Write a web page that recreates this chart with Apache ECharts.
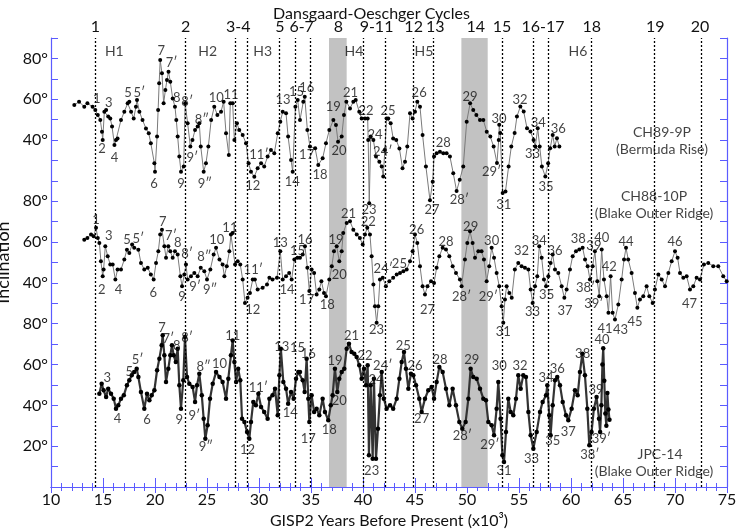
<!DOCTYPE html>
<html><head><meta charset="utf-8">
<script src="https://cdn.jsdelivr.net/npm/echarts@6/dist/echarts.min.js"></script>
<style>html,body{margin:0;padding:0;background:#fff}#c{width:743px;height:532px}</style>
</head><body><div id="c"></div>
<script>
// ---- data (x = GISP2 kyr BP, v = inclination in degrees) ----
const ch89_9p = [[12.24,57.2],[12.7,58.8],[13.2,56.3],[13.5,58],[14.0,56.3],[14.26,54.7],[14.5,52.3],[14.74,49.8],[14.9,44.1],[14.97,40],[15.13,53.9],[15.3,54.7],[15.5,51.5],[15.7,50.6],[15.87,46.6],[16.1,37.6],[16.25,40],[16.4,40.8],[16.73,49.8],[17.05,53.9],[17.37,58],[17.53,58.8],[17.7,53.9],[17.95,50.6],[18.17,56.3],[18.27,59.6],[18.5,53.9],[18.8,49.8],[19.13,45.7],[19.4,43.3],[19.6,38.4],[19.94,28.6],[20.0,24.5],[20.2,41.7],[20.3,54.7],[20.4,67.8],[20.5,79.2],[20.67,72.7],[20.83,58],[21.0,64.5],[21.15,69.4],[21.3,73.5],[21.47,68.6],[21.7,60.4],[21.92,56.3],[22.05,49.8],[22.18,41.7],[22.34,31.9],[22.5,24.5],[22.76,27],[22.9,58],[23.14,48.2],[23.4,36.8],[23.6,40],[23.85,44.9],[24.1,46.6],[24.26,48.2],[24.4,36.8],[24.68,24.5],[24.9,28.6],[25.13,36.8],[25.4,49.8],[25.7,56.3],[26.0,52.3],[26.35,53.9],[26.6,58.8],[26.83,43.3],[27.1,32.7],[27.24,58],[27.47,58],[27.63,40],[27.88,48.2],[28.1,44.9],[28.43,42.5],[28.75,38.4],[29.0,28.6],[29.23,24.5],[29.55,22],[29.87,26.2],[30.2,28.6],[30.5,27],[30.83,31.9],[31.15,35.1],[31.47,33.5],[31.8,43.3],[32.05,49],[32.28,53.9],[32.6,53.1],[32.8,41.7],[33.08,30.2],[33.24,24.5],[33.5,56.3],[33.72,59.6],[33.94,49.8],[34.26,58.8],[34.4,61.2],[34.65,44.9],[34.9,36.8],[35.4,36],[35.7,27.8],[36.12,31.1],[36.44,38.4],[36.76,44.9],[37.15,49.8],[37.4,47.4],[37.6,39.2],[37.95,41.7],[38.17,52.3],[38.4,58.8],[38.75,55.5],[39.07,58.8],[39.3,59.6],[39.64,53.9],[39.87,50.6],[40.19,50.6],[40.45,50.6],[40.5,40],[40.6,9],[40.74,41.7],[41.0,40],[41.25,31.9],[41.57,29.4],[41.8,27],[41.95,22.1],[42.1,35.1],[42.27,50.6],[42.43,50.6],[42.66,48.2],[42.9,40.8],[43.2,40],[43.5,35.9],[43.8,26.2],[44.04,29.4],[44.26,36.8],[44.52,53.1],[44.77,50.6],[45.0,53.9],[45.22,58.8],[45.48,56.3],[45.73,42.5],[46.05,27],[46.44,10.5],[46.7,19.6],[46.83,31.9],[47.08,33.5],[47.4,34.3],[47.72,33.5],[48.04,33.5],[48.36,31.9],[48.68,23.7],[49.0,15],[49.3,20.5],[49.64,27],[49.97,49],[50.3,58],[50.6,54.7],[50.9,52.3],[51.25,49.8],[51.57,49.8],[51.9,44.1],[52.24,41.7],[52.56,36.8],[52.88,28.8],[53.05,40],[53.1,47.5],[53.2,43.4],[53.43,14],[53.7,14.8],[54.0,27],[54.26,36.8],[54.58,43.4],[54.8,51.5],[55.13,56.4],[55.45,54],[55.77,45.8],[56.1,44.2],[56.4,40],[56.57,36.8],[56.8,45.8],[56.99,36.8],[57.2,27],[57.53,22.1],[57.8,28.6],[58.0,36],[58.24,42.5],[58.43,36.8],[58.65,40.9],[58.88,36.8]];

const ch88_10p = [[13.2,61.2],[13.5,62],[13.85,63.7],[14.1,62.9],[14.33,67],[14.5,62],[14.65,59.6],[14.8,50.6],[14.97,43.3],[15.06,46.6],[15.22,58],[15.45,53.1],[15.7,49],[15.93,49],[16.19,41.7],[16.4,46.6],[16.73,46.6],[17.05,51.5],[17.3,56.3],[17.53,54.7],[17.8,58.8],[18.0,57.2],[18.4,56.3],[18.65,49.8],[18.97,46.6],[19.3,47.4],[19.6,44.1],[19.87,41.7],[20.1,49.8],[20.32,55.5],[20.5,63.7],[20.67,66.1],[20.9,58],[21.06,52.3],[21.28,58],[21.47,55.5],[21.7,52.3],[21.92,55.5],[22.18,53.9],[22.44,43.3],[22.6,38.4],[22.82,44.1],[22.98,49],[23.14,41.7],[23.46,43.3],[23.78,44.9],[24.1,43.3],[24.4,47.4],[24.74,45.7],[25.0,41.7],[25.32,46.6],[25.64,53.9],[25.87,57.2],[26.2,51.5],[26.5,49],[26.67,43.3],[26.9,48.2],[27.15,55.5],[27.3,63.7],[27.47,64.5],[27.7,49],[27.95,50.6],[28.2,49],[28.43,41.7],[28.65,30.2],[28.9,32.7],[29.13,35.1],[29.4,41.7],[29.6,41.7],[29.87,36.8],[30.35,37.6],[30.77,39.2],[31.0,42.5],[31.3,41.7],[31.73,42.5],[32.05,55.5],[32.28,41.7],[32.6,43.3],[32.9,44.9],[33.14,41.7],[33.4,51.5],[33.7,52.3],[33.94,52.3],[34.2,53.9],[34.42,58],[34.65,47.4],[34.84,36],[35.06,46.6],[35.3,44.9],[35.54,34.3],[35.8,36.8],[36.0,40.8],[36.25,35.1],[36.44,33.5],[36.76,41.7],[37.0,48.2],[37.21,55.5],[37.47,58],[37.72,50.6],[37.95,55.5],[38.1,64.5],[38.43,69.4],[38.75,70.2],[39.07,66.1],[39.4,63.7],[39.7,62],[39.97,58.8],[40.19,63.7],[40.41,67],[40.67,63.7],[40.83,53.1],[41.0,39.2],[41.15,28.6],[41.31,20.5],[41.47,28.6],[41.63,41.7],[41.9,42.5],[42.2,38.4],[42.53,40.8],[42.9,42.5],[43.24,44.1],[43.56,44.9],[43.88,45.7],[44.2,46.6],[44.52,50.6],[44.77,55.5],[45.0,63.7],[45.22,59.6],[45.48,48.2],[45.73,38.4],[45.96,34.3],[46.2,38.4],[46.54,40.8],[46.83,40],[47.08,47.4],[47.34,53.1],[47.66,57.2],[47.98,56.4],[48.3,53.1],[48.62,48.2],[48.94,44.9],[49.32,41.7],[49.48,38.4],[49.8,51.5],[50.03,59.6],[50.29,65.3],[50.54,59.6],[50.77,52.3],[51.09,55.5],[51.4,55.5],[51.63,51.5],[51.89,40.8],[52.14,48.2],[52.37,57.2],[52.6,52.3],[52.85,44.9],[53.1,38.4],[53.33,28.6],[53.49,20.5],[53.65,31.9],[53.81,38.4],[54.07,35.1],[54.3,32.7],[54.6,46.6],[54.93,49.8],[55.25,48.2],[55.57,47.4],[55.9,46.6],[56.12,36.8],[56.31,30.2],[56.54,38.4],[56.76,43.3],[56.95,58],[57.18,52.3],[57.4,41.7],[57.6,38.4],[57.82,43.3],[58.04,49.8],[58.24,53.9],[58.46,46.6],[58.78,44.9],[59.1,38.4],[59.36,32.7],[59.58,36.8],[59.9,46.6],[60.16,53.1],[60.48,55.5],[60.8,56.4],[61.12,57.2],[61.35,51.5],[61.6,48.2],[61.82,41.7],[62.08,48.2],[62.3,55.5],[62.53,40.8],[62.72,33.5],[62.95,56.4],[63.17,41.7],[63.43,33.5],[63.6,25.4],[63.81,43.3],[64.0,25.4],[64.23,22.1],[64.55,29.4],[64.87,41.7],[65.1,51.5],[65.29,57.2],[65.5,51.5],[65.83,44.9],[66.15,35.1],[66.38,27.8],[66.63,31.9],[66.95,33.5],[67.27,38.4],[67.53,33.5],[67.85,30.2],[68.07,36.8],[68.4,44.1],[68.72,41.7],[69.04,38.4],[69.36,44.9],[69.68,50.6],[70.0,55.5],[70.25,52.3],[70.48,44.9],[70.8,42.5],[71.12,43.3],[71.44,36.8],[71.76,38.4],[72.08,42.5],[72.4,41.7],[72.78,49],[73.2,49.8],[73.68,48.2],[74.16,48.2],[74.64,43.3],[74.97,40.8]];

const jpc_14 = [[14.65,45.7],[14.87,50.6],[15.06,47.4],[15.3,44.1],[15.5,48.2],[15.77,45.7],[16.03,43.3],[16.25,38.4],[16.47,40],[16.73,43.3],[17.0,44.9],[17.3,49.8],[17.53,52.3],[17.76,54.7],[18.0,56.3],[18.24,58],[18.4,53.9],[18.65,46.6],[18.97,38.4],[19.23,45.7],[19.46,42.5],[19.68,44.9],[19.94,47.4],[20.2,57.2],[20.42,62.9],[20.64,69.4],[20.74,74.3],[20.9,64.5],[21.06,51.5],[21.28,58],[21.47,64.5],[21.63,69.4],[21.8,64.5],[22.0,61.2],[22.18,67.8],[22.34,49.8],[22.5,38.4],[22.72,52.3],[22.88,73.5],[23.08,53.9],[23.3,50.6],[23.62,49],[23.85,41.7],[24.04,49.8],[24.26,55.5],[24.5,44.9],[24.68,33.5],[24.84,23.7],[25.06,30.2],[25.29,43.3],[25.55,50.6],[25.87,56.3],[26.2,53.9],[26.5,51.5],[26.83,43.3],[27.05,53.1],[27.3,64.5],[27.47,71.8],[27.63,61.2],[27.8,51.5],[28.0,58],[28.2,52.3],[28.37,33.5],[28.6,31.9],[28.85,27],[29.07,23.7],[29.23,31.9],[29.45,41.7],[29.7,40],[29.94,45.7],[30.2,39.2],[30.5,36.8],[30.83,33.5],[31.0,43.3],[31.3,44.9],[31.54,48.2],[31.8,35.1],[31.96,54.7],[32.1,67.8],[32.34,51.5],[32.6,48.2],[32.8,40.8],[33.08,46.6],[33.33,43.3],[33.56,53.1],[33.78,56.3],[33.94,56.3],[34.2,52.3],[34.39,46.6],[34.58,62.9],[34.74,43.3],[34.84,31.9],[35.06,44.9],[35.3,36.8],[35.54,38.4],[35.8,35.1],[36.12,43.3],[36.34,36.8],[36.66,32.7],[36.9,40],[37.08,44.9],[37.3,58],[37.53,46.6],[37.72,53.1],[37.95,56.3],[38.2,58],[38.43,67.8],[38.65,70.2],[38.9,66.1],[39.16,65.3],[39.39,63.7],[39.64,59.6],[39.87,53.1],[40.1,58],[40.29,49.8],[40.45,59.6],[40.57,15.6],[40.74,49.8],[40.93,13.9],[41.05,53.1],[41.25,13.9],[41.44,28.6],[41.63,44.9],[41.8,56.3],[42.0,43.3],[42.27,38.4],[42.6,40],[42.9,38.4],[43.24,43.3],[43.5,53.1],[43.72,61.2],[43.94,66.1],[44.13,58],[44.36,48.2],[44.61,55.5],[44.84,54.7],[45.1,49.8],[45.41,43.3],[45.64,36.8],[45.96,43.3],[46.28,47.4],[46.6,49],[46.83,43.3],[47.08,51.5],[47.34,58.8],[47.66,56.3],[47.98,48.2],[48.3,40],[48.62,48.2],[48.94,40],[49.26,31.9],[49.55,28.6],[49.87,31.9],[50.13,43.3],[50.35,58],[50.6,53.9],[50.93,53.1],[51.25,48.2],[51.57,43.3],[51.82,42.5],[52.05,31.9],[52.37,30.2],[52.6,25.4],[52.85,38.4],[53.01,51.5],[53.23,33.5],[53.4,15.6],[53.56,12.3],[53.75,27],[53.97,43.3],[54.2,36.8],[54.45,35.1],[54.71,43.3],[54.93,54.7],[55.16,48.2],[55.41,54.7],[55.67,53.9],[55.9,36.8],[56.12,25.4],[56.38,18.8],[56.7,27],[57.02,36.8],[57.27,41.7],[57.6,44.9],[57.72,49.8],[57.91,35.1],[58.04,25.4],[58.24,40],[58.46,52.3],[58.68,53.9],[58.94,49.8],[59.2,41.7],[59.52,35.1],[59.74,32.7],[60.06,38.4],[60.38,47.4],[60.64,44.9],[60.86,56.3],[61.09,65.3],[61.34,54.7],[61.57,38.4],[61.76,20.5],[61.98,27],[62.2,38.4],[62.46,44.1],[62.69,33.5],[62.8,27],[62.92,40],[63.02,60],[63.1,68],[63.2,52],[63.3,36],[63.4,30],[63.5,46],[63.6,38],[63.7,33]];

// panel offsets on the shared vertical axis (degrees)
const offsetTop = 130, offsetMid = 60, offsetBot = 0;

// y tick labels
const yLabelAt = [20,40,60,80,100,120,140,170,190,210];
const yLabelText = ['20°','40°','60°','80°','40°','60°','80°','40°','60°','80°'];

// Dansgaard-Oeschger cycles
const doLines = [14.3,22.95,27.7,28.85,31.95,33.46,34.9,40.03,42.15,44.87,46.8,53.37,56.35,57.85,61.9,68.04,72.5];
const doLabelAt = [14.27,22.95,28.0,32.0,34.1,37.63,41.3,44.87,46.95,50.85,53.37,57.3,62.0,68.1,72.4];
const doLabelText = ['1','2','3-4','5','6-7','8','9-11','12','13','14','15','16-17','18','19','20'];
const grayBands = [[36.73,38.43],[49.46,51.99]];

// Heinrich events (top panel)
const heinrich = [[16.09,83.4,'H1'],[25.06,83.4,'H2'],[30.35,83.4,'H3'],[39.13,83.4,'H4'],[45.86,83.4,'H5'],[60.67,83.4,'H6']];

// peak labels [x, inclination, text]
const peaksTop = [[14.4,60.4,'1'],[14.9,35.5,'2'],[15.55,58.3,'3'],[16.1,31.5,'4'],[17.4,63.2,'5'],[18.5,63.2,'5′'],[19.9,18.8,'6'],[20.6,83.6,'7'],[21.6,77.6,'7′'],[22.1,60.8,'8'],[23.1,58.8,'8′'],[22.5,18.8,'9'],[24.5,50.1,'8″'],[23.6,31.5,'9′'],[24.8,18.8,'9″'],[25.9,60.9,'10'],[27.3,62,'11'],[29.4,17.5,'12'],[30.0,32.7,'11′'],[32.3,59.9,'13'],[33.2,19.6,'14'],[33.6,63.5,'15'],[34.6,65.5,'16'],[34.58,32.7,'17'],[35.86,22.9,'18'],[37.15,56.3,'19'],[37.7,34.8,'20'],[38.8,62.9,'21'],[40.29,54.4,'22'],[40.57,5.8,'23'],[41.15,42.5,'24'],[41.9,34.3,'24′'],[42.4,54.4,'25'],[45.4,62.9,'26'],[46.63,5.8,'27'],[47.72,38.4,'28'],[49.26,10.7,'28′'],[50.3,61.2,'29'],[53.07,50.6,'30'],[52.37,24.5,'29′'],[53.53,8.2,'31'],[55.1,59.6,'32'],[56.86,48.5,'34'],[56.3,33.2,'33'],[57.6,17.2,'35'],[58.78,45.3,'36']];
const peaksMid = [[14.33,71,'1'],[15.55,62.9,'3'],[14.87,36.8,'2'],[16.5,36.8,'4'],[17.3,60.9,'5'],[18.4,61.6,'5′'],[19.84,35.1,'6'],[20.74,69.7,'7'],[21.54,62.9,'7′'],[22.18,59.6,'8'],[23.08,54.4,'8′'],[22.6,33.2,'9'],[23.85,38.1,'9′'],[24.74,52.8,'8″'],[25.3,36.8,'9″'],[25.93,60.9,'10'],[27.2,66.9,'11'],[29.4,26.7,'12'],[29.45,46.2,'11′'],[32.05,59.6,'13'],[32.7,36.4,'14'],[33.7,55.5,'15'],[34.42,61.2,'16'],[34.58,31.5,'17'],[36.57,29.4,'18'],[37.4,61.2,'19'],[37.72,44.1,'20'],[38.6,74,'21'],[40.5,69.7,'22'],[41.31,16.9,'23'],[41.95,46.9,'24′'],[43.5,49.5,'25'],[45.16,65.8,'26'],[46.2,26.7,'27'],[47.98,59.9,'28'],[49.48,33.2,'28′'],[50.35,67.4,'29'],[52.37,60.4,'30'],[52.05,33.2,'29′'],[53.49,16.1,'31'],[55.25,55.5,'32'],[56.31,25.7,'33'],[56.95,60.8,'34'],[57.66,34.3,'35'],[58.46,55.5,'36'],[59.42,26.2,'37'],[60.7,61.6,'38'],[61.4,37.6,'38′'],[62.2,58,'39'],[62.95,62.1,'40'],[62.2,29.9,'39′'],[63.68,47.9,'42'],[63.27,17.7,'41'],[64.77,17.2,'43'],[65.29,59.9,'44'],[66.15,20.8,'45'],[70.0,59.9,'46'],[71.4,29.9,'47']];
const peaksBot = [[15.4,53.4,'3'],[16.4,33.5,'4'],[17.53,56.3,'5'],[18.33,62.1,'5′'],[19.23,32.7,'6'],[20.67,77.9,'7'],[21.28,72.7,'7′'],[22.1,69.4,'8'],[23.08,73,'8′'],[22.34,32.7,'9'],[23.78,35.1,'9′'],[24.68,58.8,'8″'],[24.9,19.6,'9″'],[26.2,60.4,'10'],[27.47,74.3,'11'],[29.94,48.5,'11′'],[28.9,18,'12'],[32.18,68.6,'13'],[33.0,36.5,'14'],[33.7,68,'15'],[34.74,65.3,'16'],[34.74,23.4,'17'],[36.76,27.8,'18'],[37.3,61.6,'19'],[37.72,42,'20'],[38.9,74,'21'],[40.2,64.5,'22'],[40.83,7.7,'23'],[41.25,52.3,'24'],[41.9,59.6,'24′'],[43.88,69.4,'25'],[45.0,59.6,'26'],[45.64,33.5,'27'],[47.4,62.5,'28'],[49.55,25,'28′'],[50.45,62.1,'29'],[52.2,20.8,'29′'],[53.1,59.3,'30'],[53.56,7.7,'31'],[55.1,59.3,'32'],[56.2,13.9,'33'],[57.6,53.4,'34'],[58.24,22.4,'35'],[58.68,57.7,'36'],[59.74,27,'37'],[61.12,65.3,'38'],[61.82,15.9,'38′'],[62.41,47.5,'39'],[62.92,23.4,'39′'],[62.98,72,'40']];

// record names [x, shared-axis value, text]
const recordNames = [[68.75,173.5,'CH89-9P'],[68.75,165.2,'(Bermuda Rise)'],[67.98,142.2,'CH88-10P'],[67.98,133.8,'(Blake Outer Ridge)'],[68.56,15.7,'JPC-14'],[67.98,7.4,'(Blake Outer Ridge)']];

// ---- chart ----
const FONT = 'Lato';
const BLUE = '#5b5bff';
const shift = (arr, off) => arr.map(p => [p[0], p[1] + off]);
const labelData = (arr, off) => arr.map(p => ({value: [p[0], p[1] + off], name: p[2]}));
const yMap = {}; yLabelAt.forEach((v, i) => { yMap[v] = yLabelText[i]; });

function recordSeries(data, lineColor, lineWidth, symSize) {
  return {
    type: 'line', data: data, symbol: 'circle', symbolSize: symSize, showSymbol: true,
    itemStyle: {color: '#000'}, lineStyle: {color: lineColor, width: lineWidth},
    z: 3, silent: true, animation: false
  };
}
function textSeries(data, size) {
  return {
    type: 'scatter', data: data, symbolSize: 0.1, itemStyle: {color: 'rgba(0,0,0,0)'},
    label: {show: true, position: 'inside', formatter: '{b}', color: '#111', fontSize: size, fontFamily: FONT},
    z: 6, silent: true, animation: false
  };
}

const chart = echarts.init(document.getElementById('c'));
chart.setOption({
  animation: false,
  title: {text: 'Dansgaard-Oeschger Cycles', left: 'center', top: 1,
    textStyle: {fontFamily: FONT, fontSize: 16, fontWeight: 'normal', color: '#111'}},
  grid: {left: 51, right: 16, top: 38, bottom: 45, outerBoundsMode: 'none', containLabel: false},
  xAxis: [
    {type: 'value', position: 'bottom', min: 10, max: 75, interval: 5,
      name: 'GISP2 Years Before Present (x10³)', nameLocation: 'middle', nameGap: 24,
      nameTextStyle: {fontFamily: FONT, fontSize: 16, color: '#111'},
      axisLine: {lineStyle: {color: BLUE, width: 1.2}},
      axisTick: {inside: true, length: 9, lineStyle: {color: BLUE}},
      minorTick: {show: true, splitNumber: 5, length: 4, lineStyle: {color: BLUE}},
      axisLabel: {color: '#111', fontSize: 16, fontFamily: FONT, margin: 5},
      splitLine: {show: false}},
    {type: 'value', position: 'top', min: 10, max: 75, interval: 5,
      axisLine: {lineStyle: {color: BLUE, width: 1.2}},
      axisTick: {inside: true, length: 6, lineStyle: {color: BLUE}},
      minorTick: {show: true, splitNumber: 5, length: 4, lineStyle: {color: BLUE}},
      axisLabel: {show: true, customValues: doLabelAt, color: '#111', fontSize: 16, fontFamily: FONT, margin: 3,
        formatter: (v) => { const i = doLabelAt.indexOf(v); return i >= 0 ? doLabelText[i] : ''; }},
      splitLine: {show: false}}
  ],
  yAxis: [
    {type: 'value', position: 'left', min: 0, max: 220, interval: 10,
      name: 'Inclination', nameLocation: 'middle', nameGap: 29, nameRotate: 90,
      nameTextStyle: {fontFamily: FONT, fontSize: 18, color: '#111'},
      axisLine: {show: true, lineStyle: {color: BLUE, width: 1.2}},
      axisTick: {show: true, inside: true, length: 7, lineStyle: {color: BLUE}},
      axisLabel: {color: '#111', fontSize: 16, fontFamily: FONT, margin: 3,
        formatter: (v) => yMap[Math.round(v)] || ''},
      splitLine: {show: false}},
    {type: 'value', position: 'right', min: 0, max: 220, interval: 10,
      axisLine: {show: true, lineStyle: {color: BLUE, width: 1.2}},
      axisTick: {show: true, inside: true, length: 7, lineStyle: {color: BLUE}},
      axisLabel: {show: false}, splitLine: {show: false}}
  ],
  series: [
    {type: 'line', data: [[10, -50]], symbol: 'none', lineStyle: {opacity: 0}, z: 1, silent: true,
      markArea: {silent: true, itemStyle: {color: '#c2c2c2'},
        data: grayBands.map(b => [{xAxis: b[0]}, {xAxis: b[1]}])},
      markLine: {silent: true, symbol: 'none', label: {show: false},
        lineStyle: {color: '#000', type: [2, 2], width: 1.3},
        data: doLines.map(x => ({xAxis: x}))}},
    recordSeries(shift(ch89_9p, offsetTop), '#7a7a7a', 1, 4),
    recordSeries(shift(ch88_10p, offsetMid), '#7a7a7a', 1, 4),
    recordSeries(shift(jpc_14, offsetBot), '#333', 2.2, 4.5),
    textSeries(labelData(peaksTop, offsetTop), 13),
    textSeries(labelData(peaksMid, offsetMid), 13),
    textSeries(labelData(peaksBot, offsetBot), 13),
    textSeries(labelData(heinrich, offsetTop), 14),
    textSeries(recordNames.map(p => ({value: [p[0], p[1]], name: p[2]})), 14)
  ]
});
</script>
</body></html>
